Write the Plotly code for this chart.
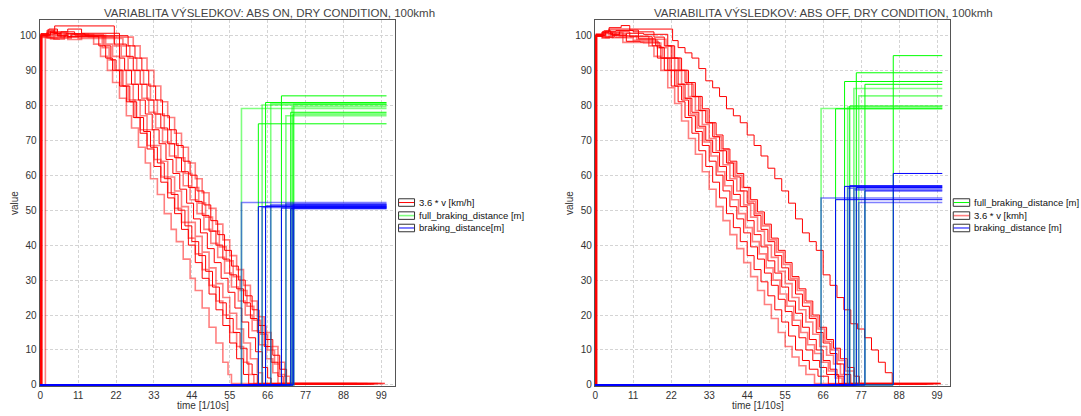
import plotly.graph_objects as go

W, H = 1081, 416

# ---------------------------------------------------------------- data
X_TICKS = [0, 11, 22, 33, 44, 55, 66, 77, 88, 99]
Y_TICKS = [0, 10, 20, 30, 40, 50, 60, 70, 80, 90, 100]

TITLE_ON = "VARIABLITA VÝSLEDKOV: ABS ON, DRY CONDITION, 100kmh"
TITLE_OFF = "VARIABILITA VÝSLEDKOV: ABS OFF, DRY CONDITION, 100kmh"
X_LABEL = "time [1/10s]"
Y_LABEL = "value"
LEGEND_ON = ["3.6 * v [km/h]", "full_braking_distance [m]", "braking_distance[m]"]
LEGEND_OFF = ["full_braking_distance [m]", "3.6 * v [kmh]", "braking_distance [m]"]

# ABS ON : speed runs as (time, 3.6*v) step points
ON_RUN_A = [(0,0),(0.3,100),(2,99.2),(4,100.6),(6,99.6),(9,100.2),(15.5,97.5),(17.5,94),(19.5,90),(21,86.5),(23,82),(25,77),(26.5,73.5),(28.5,68),(30.5,63.5),(32,59),(34,54.5),(36,49),(38,44.5),(39.5,41),(41.5,36),(43.5,30.5),(45,27),(47,22),(49,16.5),(51,12),(53,6.5),(54.5,3),(55.5,0.4),(92,0.4)]
ON_RUN_B = [(0,0),(0.2,100.3),(3,101.2),(5,100),(8,99.7),(17,97),(19,93.5),(21,90),(23,85.5),(25,81),(27,76.5),(29,72),(31,67.5),(33,62.5),(35,58),(37,53.5),(39,49),(41,44.5),(43,40),(45,35),(47,30.5),(49,26),(51,21.5),(53,17),(55,12),(57,7.5),(59,3),(60.5,0.3),(97,0.3)]
ON_RUN_C = [(0,0),(0.4,99.6),(2.5,100.8),(4.5,99.3),(7,100.4),(11,99.8),(18,96.5),(20,93),(21.5,90),(23.5,85.5),(25.5,81.5),(27.5,76.5),(29,73),(31,68.5),(33,64.5),(35,59.5),(37,55),(39,50.5),(41,46.5),(43,42),(45,37.5),(47,33),(49,28.5),(51,24),(53,20),(55,15),(57,11),(59,6.5),(60.5,3),(62,0.4),(95,0.4)]
ON_RUN_D = [(0,0),(0.2,99.8),(2,101.5),(4,100.5),(6,101),(10,100.1),(18.5,97),(20.5,93),(22,90),(24,85.5),(26,81),(28,76.5),(30,72.5),(32,68),(34,63.5),(36,59),(38,54.5),(40,50),(42,45.5),(44,41),(46,37),(48,32.5),(50,28),(52,23.5),(54,19),(56,15),(58,10.5),(60,6),(61.5,3),(63,0.3),(93,0.3)]
ON_RUN_E = [(0,0),(0.5,100.2),(3,99),(5.5,100.7),(8,99.5),(12,100),(19,97.5),(21,94),(23,90),(25,86),(27,81.5),(29,77),(31,73),(33,68.5),(35,64),(37,59.5),(39,55.5),(41,51),(43,46.5),(45,42.5),(47,38),(49,33.5),(51,29),(53,25),(55,20.5),(57,16),(59,12),(61,7.5),(63,3.5),(64.5,0.4),(100,0.4)]
ON_RUN_F = [(0,0),(0.3,100),(2,101),(4.2,102.7),(21.5,97.5),(23,93.5),(24.5,90),(26.5,86),(28.5,81.5),(30.5,77.5),(32.5,73),(34.5,69),(36.5,64.5),(38.5,60.5),(40.5,56),(42.5,52),(44.5,47.5),(46.5,43.5),(48.5,39),(50.5,35),(52.5,30.5),(54.5,26.5),(56.5,22),(58.5,18),(60.5,13.5),(62.5,9.5),(64.5,5),(66,2),(67,0.3),(96,0.3)]
ON_RUN_G = [(0,0),(1.5,99.5),(3.5,100.5),(6,99.2),(9,100.3),(14,99.6),(21.5,97),(23.5,94),(25.5,90),(27.5,86),(29.5,82),(31.5,78),(33.5,73.5),(35.5,69.5),(37.5,65.5),(39.5,61),(41.5,57),(43.5,53),(45.5,49),(47.5,44.5),(49.5,40.5),(51.5,36.5),(53.5,32),(55.5,28),(57.5,24),(59.5,20),(61.5,15.5),(63.5,11.5),(65.5,7.5),(67.5,3.5),(69,0.4),(99,0.4)]
ON_RUN_H = [(0,0),(0.2,100.5),(2.5,101.8),(5,101),(8,101.8),(12,100.6),(23,97.5),(25,94),(27,90),(29,86),(31,81.5),(33,77.5),(35,73.5),(37,69),(39,65),(41,61),(43,56.5),(45,52.5),(47,48.5),(49,44),(51,40),(53,36),(55,31.5),(57,27.5),(59,23.5),(61,19),(63,15),(65,11),(67,6.5),(69,2.5),(70.5,0.3),(94,0.3)]
ON_RUN_I = [(0,0),(0.3,99.4),(2,100.3),(4,98.9),(7,99.6),(11,99.1),(24,97),(26,93.5),(28,90),(30,86),(32,81.5),(34,77.5),(36,73),(38,69),(40,65),(42,60.5),(44,56.5),(46,52),(48,48),(50,44),(52,39.5),(54,35.5),(56,31),(58,27),(60,22.5),(62,18.5),(64,14.5),(66,10),(68,6),(69.5,3),(71,0.4),(98,0.4)]
ON_RUN_J = [(0,0),(0.2,100),(3,100.8),(5,99.8),(7.5,100.5),(13,99.9),(25.5,97),(27.5,93.5),(29.5,90),(31.5,85.5),(33.5,81.5),(35.5,77),(37.5,73),(39.5,68.5),(41.5,64),(43.5,60),(45.5,55.5),(47.5,51.5),(49.5,47),(51.5,43),(53.5,38.5),(55.5,34),(57.5,30),(59.5,25.5),(61.5,21.5),(63.5,17),(65.5,13),(67.5,8.5),(69.5,4.5),(71.5,0.3),(97,0.3)]
ON_RUN_K = [(0,0),(0.4,100.1),(2.5,99.3),(5,100.4),(8,98.8),(12,99.5),(27,97),(29,93.5),(31,90),(33,85.5),(35,81),(37,76.5),(39,72),(41,68),(43,63.5),(45,59),(47,55),(49,50.5),(51,46),(53,41.5),(55,37),(57,33),(59,28.5),(61,24),(63,19.5),(65,15),(67,11),(69,6.5),(71,2.5),(72.5,0.4),(100,0.4)]
ON_RUNS = [ON_RUN_A, ON_RUN_B, ON_RUN_C, ON_RUN_D, ON_RUN_E, ON_RUN_F,
           ON_RUN_G, ON_RUN_H, ON_RUN_I, ON_RUN_J, ON_RUN_K]
ON_STOP_T = [58.4, 63.3, 64.4, 65.4, 66.9, 70.0, 71.3, 72.7, 73.1, 73.4, 73.6]
ON_FULL_DIST = [79.1, 74.7, 80.1, 80.8, 80.4, 82.7, 77.0, 78.0, 79.6, 77.5, 80.3]
ON_BRAKE_DIST = [52.2, 51.0, 50.8, 51.2, 51.5, 50.6, 51.8, 50.4, 51.3, 50.8, 51.6]

# ABS OFF
OFF_RUN_1 = [(0,0),(0.3,100.3),(2,99.2),(4,100.6),(6,99.5),(9,99.8),(15.5,97),(17,94),(19,90),(21,85),(23,80.5),(25,75.5),(27,70.5),(29,66),(31,61),(33,56),(35,51),(37,47),(39,43),(41,39),(43,35),(45,31),(47,27),(49,23),(51,19),(53,15),(55,11),(57,8),(59,5.5),(61,3),(63.5,0.4),(100,0.4)]
OFF_RUN_2 = [(0,0),(0.2,100),(2.5,101.3),(4.5,100.2),(7,101),(10,99.6),(16.5,97),(18,93.5),(20,90),(22,85.5),(24,81),(26,76.5),(28,72),(30,67),(32,62.5),(34,58),(36,53.5),(38,49),(40,45),(42,41),(44,37),(46,33),(48,29.5),(50,25.5),(52,21.5),(54,18),(56,14),(58,10),(60,7),(62,4.5),(64.5,2.5),(67.5,0.3),(96,0.3)]
OFF_RUN_3 = [(0,0),(0.3,99.7),(2,100.9),(4,102.2),(7.5,102.8),(10,101.5),(12.5,99),(17.5,97),(19,93.5),(21,90),(23,85.5),(25,81.5),(27,77),(29,72.5),(31,68.5),(33,64),(35,60),(37,55.5),(39,51),(41,47.5),(43,43.5),(45,39.5),(47,36),(49,32),(51,28.5),(53,24.5),(55,21),(57,17),(59,13.5),(61,10),(63,7),(65,5),(67,3),(70.5,0.4),(99,0.4)]
OFF_RUN_4 = [(0,0),(0.4,100.1),(3,99.4),(5,100.8),(8,99.3),(11,98.6),(18,96.5),(19.5,93.5),(21.5,90),(23.5,86),(25.5,82),(27.5,77.5),(29.5,73.5),(31.5,69.5),(33.5,65.5),(35.5,61),(37.5,57),(39.5,53),(41.5,49),(43.5,45),(45.5,41),(47.5,37.5),(49.5,33.5),(51.5,30),(53.5,26),(55.5,22.5),(57.5,18.5),(59.5,15),(61.5,11.5),(63.5,9),(65.5,6.5),(67.5,4),(69.5,2),(71.5,0.4),(100,0.4)]
OFF_RUN_5 = [(0,0),(0.2,100.2),(2,99.5),(5.5,100.4),(9,98.3),(13,98.1),(18.5,96.5),(20,93.5),(22,90),(24,86),(26,82),(28,78),(30,74),(32,70),(34,66.5),(36,62.5),(38,58.5),(40,54.5),(42,51),(44,47),(46,43),(48,39.5),(50,35.5),(52,32),(54,28),(56,24),(58,20.5),(60,16.5),(62,13),(64,10),(66,7),(68,4.5),(70,2.5),(72,0.3),(98,0.3)]
OFF_RUN_6 = [(0,0),(0.3,99.8),(2.5,100.5),(5,99.3),(8,98),(14,97.8),(19,96.5),(21,93.5),(23,90),(25,86),(27,82.5),(29,78.5),(31,74.5),(33,70.5),(35,67),(37,63),(39,59),(41,55.5),(43,51.5),(45,48),(47,44),(49,40),(51,36.5),(53,32.5),(55,29),(57,25),(59,21.5),(61,18),(63,14.5),(65,11),(67,8.5),(69,6),(71,3),(73,0.4),(100,0.4)]
OFF_RUN_7 = [(0,0),(0.2,100),(3,101.2),(6,101.4),(11,101),(17,99.5),(20,97),(22,93.5),(24,90),(26,86.5),(28,82.5),(30,78.5),(32,75),(34,71),(36,67),(38,63.5),(40,59.5),(42,55.5),(44,52),(46,48.5),(48,44.5),(50,41),(52,37),(54,33.5),(56,30),(58,26),(60,22.5),(62,19),(64,15),(66,12),(68,9),(70,6),(72,3),(74,0.3),(97,0.3)]
OFF_RUN_8 = [(0,0),(0.4,100.4),(2,99.6),(4.5,101),(7,99.8),(12,98.9),(20.5,97),(22.5,93.5),(24.5,90),(26.5,86),(28.5,82.5),(30.5,78.5),(32.5,75),(34.5,71),(36.5,67.5),(38.5,63.5),(40.5,60),(42.5,56.5),(44.5,52.5),(46.5,49),(48.5,45.5),(50.5,41.5),(52.5,38),(54.5,34.5),(56.5,30.5),(58.5,27),(60.5,23.5),(62.5,19.5),(64.5,16),(66.5,12.5),(68.5,10),(70.5,7),(72.5,4),(75,0.4),(99,0.4)]
OFF_RUN_9 = [(0,0),(0.3,99.9),(2.5,100.7),(5,100),(9,100.6),(14,100.3),(21,97),(23,93.5),(25,90),(27,86.5),(29,82.5),(31,79),(33,75),(35,71.5),(37,67.5),(39,64),(41,60.5),(43,56.5),(45,53),(47,49.5),(49,46),(51,42),(53,38.5),(55,35),(57,31),(59,27.5),(61,24),(63,20),(65,16.5),(67,13),(69,10.5),(71,7.5),(73,5),(75,2.5),(76.5,0.3),(96,0.3)]
OFF_RUN_10 = [(0,0),(0.2,100.2),(2,101),(4,101.8),(22.4,98.5),(24,96.5),(26,95),(28,93.5),(30,90.5),(32,87),(34,85),(36,82.5),(38,79),(40,77),(42,75),(44,71.5),(46,68.5),(48,65.5),(50,62),(52,59),(54,55.5),(56,52),(58,47.5),(60,43.5),(62,41),(64,38.5),(66,31.5),(68,28.5),(70,25),(72,21.5),(74,17.5),(76,16),(78,13.5),(80,10),(82,6.5),(84,3.5),(86,0.4),(100,0.4)]
OFF_RUNS = [OFF_RUN_1, OFF_RUN_2, OFF_RUN_3, OFF_RUN_4, OFF_RUN_5,
            OFF_RUN_6, OFF_RUN_7, OFF_RUN_8, OFF_RUN_9, OFF_RUN_10]
OFF_STOP_T = [65.4, 69.6, 72.2, 73.1, 73.7, 74.9, 75.6, 76.3, 78.1, 86.3]
OFF_FULL_DIST = [79.1, 79.0, 86.8, 79.5, 79.8, 84.8, 89.3, 82.7, 86.0, 94.2]
OFF_BRAKE_DIST = [53.5, 53.0, 56.8, 56.3, 57.0, 55.8, 56.5, 52.2, 55.5, 60.5]

SIM_END_T = 100.5

# ---------------------------------------------------------------- styles
ON_FAINT = [True, False, True, False, True, False, True, False, True, False, True]
OFF_FAINT = [True, False, False, True, False, True, False, True, False, False]
RED, GREEN, BLUE = (255, 0, 0), (0, 255, 0), (0, 0, 255)
FONT = "Liberation Sans"


def line_style(rgb, faint):
    if faint:
        return dict(color="rgba(%d,%d,%d,0.5)" % rgb, width=1.6, shape="hv")
    return dict(color="rgb(%d,%d,%d)" % rgb, width=1, shape="hv")


fig = go.Figure()


def add_panel(runs, stops, full, brake, faint, xa, ya):
    for run, f in zip(runs, faint):
        t, v = zip(*run)
        fig.add_trace(go.Scatter(x=list(t), y=list(v), mode="lines",
                                 line=line_style(RED, f), xaxis=xa, yaxis=ya,
                                 showlegend=False, hoverinfo="skip"))
    for s, d, f in zip(stops, full, faint):
        fig.add_trace(go.Scatter(x=[0, s, SIM_END_T], y=[0, d, d], mode="lines",
                                 line=line_style(GREEN, f), xaxis=xa, yaxis=ya,
                                 showlegend=False, hoverinfo="skip"))
    for s, d, f in zip(stops, brake, faint):
        fig.add_trace(go.Scatter(x=[0, s, SIM_END_T], y=[0, d, d], mode="lines",
                                 line=line_style(BLUE, f), xaxis=xa, yaxis=ya,
                                 showlegend=False, hoverinfo="skip"))


add_panel(ON_RUNS, ON_STOP_T, ON_FULL_DIST, ON_BRAKE_DIST, ON_FAINT, "x", "y")
add_panel(OFF_RUNS, OFF_STOP_T, OFF_FULL_DIST, OFF_BRAKE_DIST, OFF_FAINT, "x2", "y2")


def px(x):
    return x / W


def py(y):
    return 1 - y / H


axis_common = dict(showgrid=True, gridcolor="#d4d4d4", griddash="3px,2px", gridwidth=1,
                   showline=True, mirror=True, linecolor="#555555", linewidth=1,
                   ticks="", zeroline=False, tickfont=dict(family=FONT, size=10, color="#333333"),
                   fixedrange=True)

y_dom = [py(390), py(20)]
fig.update_layout(
    width=W, height=H, margin=dict(l=0, r=0, t=0, b=0), autosize=False,
    paper_bgcolor="white", plot_bgcolor="white", showlegend=False,
    xaxis=dict(axis_common, domain=[px(37.7), px(393.7)], range=[-0.17, 102.95],
               tickvals=X_TICKS, anchor="y"),
    yaxis=dict(axis_common, domain=y_dom, range=[-0.37, 104.45], tickvals=Y_TICKS, anchor="x"),
    xaxis2=dict(axis_common, domain=[px(594), px(949.3)], range=[-0.1, 102.6],
                tickvals=X_TICKS, anchor="y2"),
    yaxis2=dict(axis_common, domain=y_dom, range=[-0.37, 104.45], tickvals=Y_TICKS, anchor="x2"),
)

ann = []
# titles
ann.append(dict(text=TITLE_ON, x=px(100), y=py(13.5), xanchor="left", yanchor="middle"))
ann.append(dict(text=TITLE_OFF, x=px(651.7), y=py(13.5), xanchor="left", yanchor="middle"))
for a in ann:
    a.update(xref="paper", yref="paper", showarrow=False,
             font=dict(family=FONT, size=11.5, color="#444444"))
# axis titles
for cx in (201.3, 757):
    ann.append(dict(text=X_LABEL, x=px(cx), y=py(409), xref="paper", yref="paper",
                    xanchor="center", yanchor="middle", showarrow=False,
                    font=dict(family=FONT, size=10, color="#333333")))
for cx in (12, 568):
    ann.append(dict(text=Y_LABEL, x=px(cx), y=py(205), xref="paper", yref="paper",
                    xanchor="center", yanchor="middle", showarrow=False, textangle=-90,
                    font=dict(family=FONT, size=10, color="#333333")))

shapes = []
legend_rows = [204.5, 217.7, 230.2]


def add_legend(labels, colors, faints, box_x0, box_x1, text_x):
    for lab, col, f, cy in zip(labels, colors, faints, legend_rows):
        st = line_style(col, f)
        shapes.append(dict(type="rect", xref="paper", yref="paper",
                           x0=px(box_x0), x1=px(box_x1), y0=py(cy + 3.8), y1=py(cy - 3.8),
                           line=dict(color="#333333", width=1), fillcolor="rgba(0,0,0,0)"))
        shapes.append(dict(type="line", xref="paper", yref="paper",
                           x0=px(box_x0 + 0.5), x1=px(box_x1 - 0.5), y0=py(cy), y1=py(cy),
                           line=dict(color=st["color"], width=st["width"])))
        ann.append(dict(text=lab, x=px(text_x), y=py(cy), xref="paper", yref="paper",
                        xanchor="left", yanchor="middle", showarrow=False,
                        font=dict(family=FONT, size=9.5, color="#111111")))


add_legend(LEGEND_ON, [RED, GREEN, BLUE], [False, True, False], 397.3, 413.3, 416.2)
add_legend(LEGEND_OFF, [GREEN, RED, BLUE], [False, True, False], 953, 969.5, 971.5)

fig.update_layout(annotations=ann, shapes=shapes)
fig.write_html("out.html", config={"displayModeBar": False})
